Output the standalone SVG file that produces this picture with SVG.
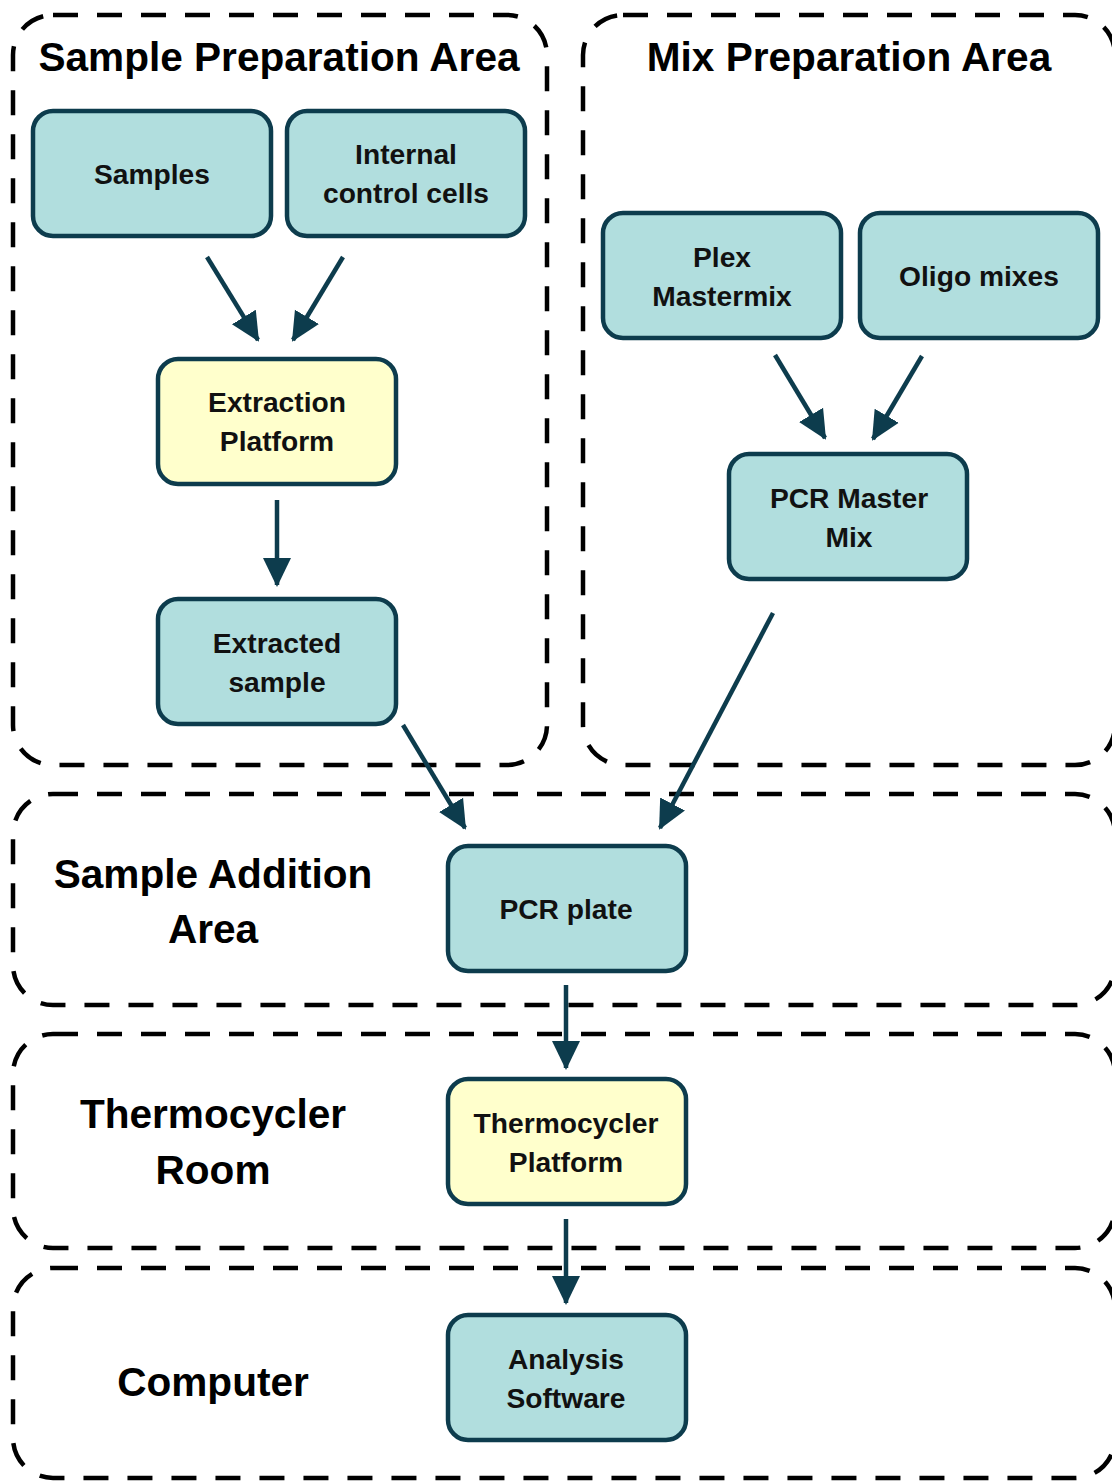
<svg xmlns="http://www.w3.org/2000/svg" width="1112" height="1481" viewBox="0 0 1112 1481">
<style>
.region{fill:none;stroke:#000;stroke-width:4.5;stroke-dasharray:25 19}
.box{fill:#b1dede;stroke:#0d3c4d;stroke-width:4.5}
.yel{fill:#ffffcc;stroke:#0d3c4d;stroke-width:4.5}
.t{font-family:"Liberation Sans",Arial,sans-serif;font-weight:bold;font-size:28.2px;fill:#111;text-anchor:middle;dominant-baseline:central}
.h{font-family:"Liberation Sans",Arial,sans-serif;font-weight:bold;font-size:40.6px;fill:#000;text-anchor:middle;dominant-baseline:central}
.arr{stroke:#0d3c4d;stroke-width:4.5;fill:none;marker-end:url(#ah)}
</style>
<defs>
<marker id="ah" markerUnits="userSpaceOnUse" markerWidth="32" markerHeight="32" viewBox="0 0 32 32" refX="27" refY="16" orient="auto">
<path d="M0,2 L29,16 L0,30 Z" fill="#0d3c4d"/>
</marker>
</defs>
<rect width="1112" height="1481" fill="#fff"/>
<g id="regions">
<g id="region-sample-prep"><rect class="region" x="13" y="15" width="534" height="750" rx="40"/><text class="h" x="279" y="57">Sample Preparation Area</text></g>
<g id="region-mix-prep"><rect class="region" x="583" y="15" width="532" height="750" rx="40"/><text class="h" x="849" y="57">Mix Preparation Area</text></g>
<g id="region-sample-add"><rect class="region" x="13" y="794" width="1102" height="211" rx="40"/><text class="h" x="213" y="874">Sample Addition</text><text class="h" x="213" y="929">Area</text></g>
<g id="region-thermo"><rect class="region" x="13" y="1034" width="1102" height="214" rx="40"/><text class="h" x="213" y="1114">Thermocycler</text><text class="h" x="213" y="1170">Room</text></g>
<g id="region-computer"><rect class="region" x="13" y="1268" width="1102" height="210" rx="40"/><text class="h" x="213" y="1382">Computer</text></g>
</g>
<g id="connectors">
<line class="arr" x1="207" y1="257" x2="258" y2="340"/>
<line class="arr" x1="343" y1="257" x2="293" y2="340"/>
<line class="arr" x1="277" y1="500" x2="277" y2="585"/>
<line class="arr" x1="775" y1="355" x2="825" y2="438"/>
<line class="arr" x1="922" y1="356" x2="873" y2="439"/>
<line class="arr" x1="403" y1="725" x2="465" y2="828"/>
<line class="arr" x1="773" y1="613" x2="660" y2="828"/>
<line class="arr" x1="566" y1="985" x2="566" y2="1068"/>
<line class="arr" x1="566" y1="1219" x2="566" y2="1303"/>
</g>
<g id="node-samples"><rect class="box" x="33" y="111" width="238" height="125" rx="20"/><text class="t" x="152" y="174">Samples</text></g>
<g id="node-internal"><rect class="box" x="287" y="111" width="238" height="125" rx="20"/><text class="t" x="406" y="154">Internal</text><text class="t" x="406" y="193">control cells</text></g>
<g id="node-extraction"><rect class="yel" x="158" y="359" width="238" height="125" rx="20"/><text class="t" x="277" y="402">Extraction</text><text class="t" x="277" y="441">Platform</text></g>
<g id="node-extracted"><rect class="box" x="158" y="599" width="238" height="125" rx="20"/><text class="t" x="277" y="643">Extracted</text><text class="t" x="277" y="682">sample</text></g>
<g id="node-plex"><rect class="box" x="603" y="213" width="238" height="125" rx="20"/><text class="t" x="722" y="257">Plex</text><text class="t" x="722" y="296">Mastermix</text></g>
<g id="node-oligo"><rect class="box" x="860" y="213" width="238" height="125" rx="20"/><text class="t" x="979" y="276">Oligo mixes</text></g>
<g id="node-pcrmix"><rect class="box" x="729" y="454" width="238" height="125" rx="20"/><text class="t" x="849" y="498">PCR Master</text><text class="t" x="849" y="537">Mix</text></g>
<g id="node-pcrplate"><rect class="box" x="448" y="846" width="238" height="125" rx="20"/><text class="t" x="566" y="909">PCR plate</text></g>
<g id="node-thermo"><rect class="yel" x="448" y="1079" width="238" height="125" rx="20"/><text class="t" x="566" y="1123">Thermocycler</text><text class="t" x="566" y="1162">Platform</text></g>
<g id="node-analysis"><rect class="box" x="448" y="1315" width="238" height="125" rx="20"/><text class="t" x="566" y="1359">Analysis</text><text class="t" x="566" y="1398">Software</text></g>
</svg>
